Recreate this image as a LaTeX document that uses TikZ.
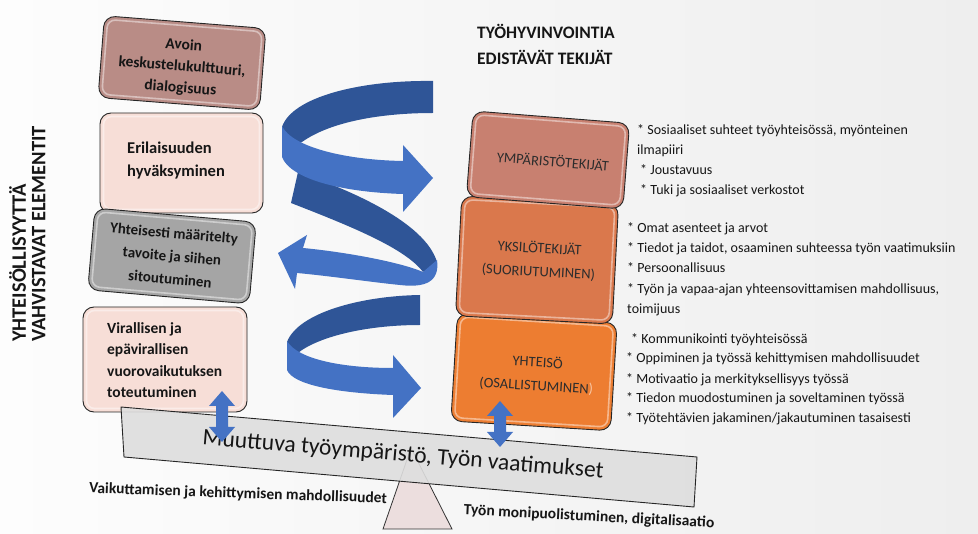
\documentclass[tikz,border=0pt]{standalone}
\usepackage{fontspec}
\setmainfont{Carlito}
\definecolor{pageL}{RGB}{253,253,253}
\definecolor{pageR}{RGB}{238,238,238}
\definecolor{roseA}{RGB}{185,140,134}
\definecolor{blush}{RGB}{247,222,215}
\definecolor{greyB}{RGB}{165,165,165}
\definecolor{envC}{RGB}{200,128,112}
\definecolor{indC}{RGB}{218,120,76}
\definecolor{comC}{RGB}{237,125,49}
\definecolor{ribbonBack}{RGB}{47,85,151}
\definecolor{ribbonFront}{RGB}{68,114,196}
\definecolor{beamC}{RGB}{222,222,222}
\definecolor{baseC}{RGB}{236,222,222}
\definecolor{ink}{RGB}{22,22,22}
\tikzset{
  tile/.style={draw=black!85, line width=0.9pt, rounded corners=11pt, inner sep=0pt},
  gloss/.style={draw=white, draw opacity=0.45, line width=1.6pt, rounded corners=8pt, inner sep=0pt},
  tiletext/.style={font=\fontsize{15.5}{21.5}\selectfont\bfseries, text=ink, inner sep=0pt},
  factor/.style={font=\fontsize{14.5}{23.5}\selectfont, text=ink!90, align=center, inner sep=0pt},
  bullet/.style={font=\fontsize{14}{16}\selectfont, text=ink, inner sep=0pt, anchor=base west},
  heading/.style={font=\fontsize{17.5}{26}\selectfont\bfseries, text=ink, inner sep=0pt, align=left},
  sidelabel/.style={font=\fontsize{15.5}{18}\selectfont\bfseries, text=ink, inner sep=0pt},
  twoway/.style={fill=ribbonFront},
}
% rounded tile with a soft bevel line inside
\newcommand\tilebox[6]{%
  \node[tile, fill=#6, minimum width=#4, minimum height=#5, rotate=#3] (#1) at #2 {};
  \node[gloss, minimum width=#4-7pt, minimum height=#5-7pt, rotate=#3] (#1-gloss) at #2 {};
}
\begin{document}
\begin{tikzpicture}[x=1pt, y=-1pt]
\useasboundingbox (0,0) rectangle (978,534);
\shade[left color=pageL, right color=pageR] (0,0) rectangle (978,534);

% headings
\node[heading, anchor=west] (head) at (477,44) {TYÖHYVINVOINTIA\\EDISTÄVÄT TEKIJÄT};
\node[heading, font=\fontsize{20.5}{19.5}\selectfont\bfseries, rotate=90, anchor=north west] (side) at (9,342)
  {YHTEISÖLLISYYTTÄ\\VAHVISTAVAT ELEMENTIT};

% left column of tiles
\tilebox{erilais}{(181.5,163)}{0}{163pt}{100pt}{blush}
\tilebox{virall}{(165,359.5)}{0}{164pt}{105pt}{blush}
\tilebox{yhteis}{(172,256)}{-5}{162pt}{82pt}{greyB}
\tilebox{avoin}{(182,63)}{-4.5}{162pt}{82pt}{roseA}

\node[tiletext, align=center, rotate=-4.5] (avoin-t) at (182,67) {Avoin\\keskustelukulttuuri,\\dialogisuus};
\node[tiletext, font=\fontsize{16.5}{23}\selectfont\bfseries, align=left, anchor=west] (erilais-t) at (127,161) {Erilaisuuden\\hyväksyminen};
\node[tiletext, font=\fontsize{15}{23}\selectfont\bfseries, align=center, rotate=-5] (yhteis-t) at (172,256) {Yhteisesti määritelty\\tavoite ja siihen\\sitoutuminen};
\node[tiletext, align=left, anchor=west] (virall-t) at (107,360) {Virallisen ja\\epävirallisen\\vuorovaikutuksen\\toteutuminen};

% right column of tiles
\tilebox{yhteiso}{(534,372)}{-3.5}{160pt}{108pt}{comC}
\tilebox{yksilo}{(537,260)}{-3}{157pt}{120pt}{indC}
\tilebox{ympar}{(548,160)}{-4.5}{157pt}{86pt}{envC}

\node[factor, rotate=-4.5] (ympar-t) at (553,161) {YMPÄRISTÖTEKIJÄT};
\node[factor, rotate=-3] (yksilo-t) at (539,260) {YKSILÖTEKIJÄT\\(SUORIUTUMINEN)};
\node[factor, rotate=-3.5] (yhteiso-t) at (537,374) {YHTEISÖ\\(OSALLISTUMINEN\textcolor{white!55!comC}{)}};

% spiral ribbon arrows
\fill[ribbonBack] (298,172) .. controls (350,190) and (425,222) .. (437,262) -- (423,272)
  .. controls (405,248) and (350,226) .. (291,203) -- cycle;
\fill[ribbonFront] (437,260) .. controls (440,282) and (425,288) .. (400,285)
  .. controls (370,282) and (330,276) .. (297,273) -- (295,289) -- (278,253) -- (307,235) -- (303,248)
  .. controls (345,252) and (400,262) .. (423,272) -- cycle;
\fill[ribbonBack] (433,81) .. controls (360,80) and (292,97) .. (282,127) -- (283,150) -- (302,142)
  .. controls (330,122) and (380,113) .. (433,113) -- cycle;
\fill[ribbonFront] (282,126) .. controls (292,147) and (345,160) .. (403,161) -- (403,145) -- (433,178)
  -- (403,212) -- (403,194) .. controls (338,192) and (290,178) .. (282,157) -- cycle;
\fill[ribbonBack] (420,295) .. controls (360,296) and (298,313) .. (287,342) -- (288,360) -- (302,350)
  .. controls (325,335) and (370,325) .. (420,325) -- cycle;
\fill[ribbonFront] (287,341) .. controls (298,360) and (345,368) .. (393,368) -- (393,355) -- (421,388)
  -- (393,418) -- (393,395) .. controls (338,393) and (293,385) .. (287,370) -- cycle;

% bullet lists
\node[bullet] (e1) at (637,135) {* Sosiaaliset suhteet työyhteisössä, myönteinen};
\node[bullet] (e2) at (637,155) {ilmapiiri};
\node[bullet] (e3) at (640,175) {* Joustavuus};
\node[bullet] (e4) at (640,195) {* Tuki ja sosiaaliset verkostot};
\node[bullet] (i1) at (627,233) {* Omat asenteet ja arvot};
\node[bullet] (i2) at (627,253) {* Tiedot ja taidot, osaaminen suhteessa työn vaatimuksiin};
\node[bullet] (i3) at (627,273) {* Persoonallisuus};
\node[bullet] (i4) at (627,294) {* Työn ja vapaa-ajan yhteensovittamisen mahdollisuus,};
\node[bullet] (i5) at (627,314) {toimijuus};
\node[bullet] (c1) at (631,344) {* Kommunikointi työyhteisössä};
\node[bullet] (c2) at (626,363) {* Oppiminen ja työssä kehittymisen mahdollisuudet};
\node[bullet] (c3) at (626,384) {* Motivaatio ja merkityksellisyys työssä};
\node[bullet] (c4) at (626,403) {* Tiedon muodostuminen ja soveltaminen työssä};
\node[bullet] (c5) at (626,423) {* Työtehtävien jakaminen/jakautuminen tasaisesti};

% seesaw
\filldraw[fill=baseC, draw=black!80, line width=0.8pt] (411,448) -- (452,529) -- (383,529) -- cycle;
\filldraw[fill=beamC, fill opacity=0.9, draw=black!85, line width=0.9pt]
  (121,407) -- (697,457) -- (694,507) -- (124,457) -- cycle;
\node[font=\fontsize{23.5}{27}\selectfont, text=ink, rotate=-4.8, inner sep=0pt] (beam-t) at (403,455)
  {Muuttuva työympäristö, Työn vaatimukset};

% two-way arrows between tiles and beam
\fill[twoway] (222,391) -- ++(13,15) -- ++(-7,0) -- ++(0,21) -- ++(7,0) -- ++(-13,15)
  -- ++(-13,-15) -- ++(7,0) -- ++(0,-21) -- ++(-7,0) -- cycle;
\fill[twoway] (500,401) -- ++(13,15) -- ++(-7,0) -- ++(0,16) -- ++(7,0) -- ++(-13,15)
  -- ++(-13,-15) -- ++(7,0) -- ++(0,-16) -- ++(-7,0) -- cycle;

% labels under the beam
\node[sidelabel, rotate=-2] (vaik) at (238,494) {Vaikuttamisen ja kehittymisen mahdollisuudet};
\node[sidelabel, rotate=-3] (monip) at (589,517) {Työn monipuolistuminen,\ digitalisaatio};
\end{tikzpicture}
\end{document}
